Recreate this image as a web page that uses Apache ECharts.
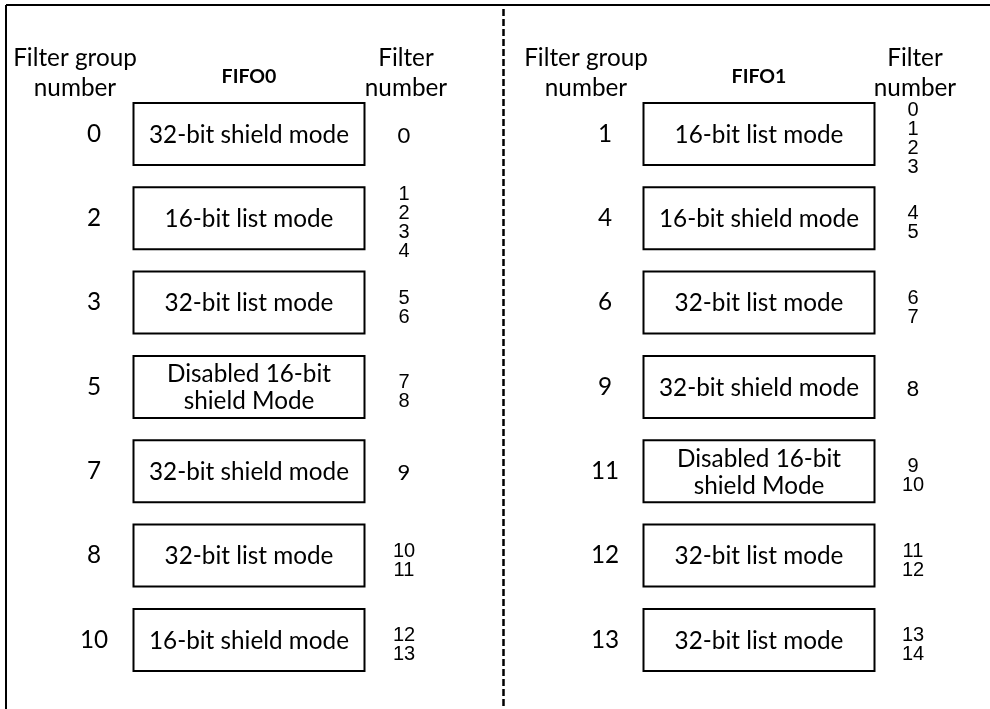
<!DOCTYPE html>
<html>
<head>
<meta charset="utf-8">
<script src="https://cdn.jsdelivr.net/npm/echarts@6/dist/echarts.min.js"></script>
<style>
  html, body { margin: 0; padding: 0; background: #fff; }
  #chart { width: 990px; height: 709px; }
</style>
</head>
<body>
<div id="chart"></div>
<script>
// column headers (same for both FIFOs except the title)
const columnHeaders = ['Filter group\nnumber', 'FIFO', 'Filter\nnumber']
const fifoNames = ['FIFO0', 'FIFO1']

// FIFO0 rows
const fifo0Groups = ['0', '2', '3', '5', '7', '8', '10']
const fifo0Modes = [
  '32-bit shield mode',
  '16-bit list mode',
  '32-bit list mode',
  'Disabled 16-bit\nshield Mode',
  '32-bit shield mode',
  '32-bit list mode',
  '16-bit shield mode'
]
const fifo0Filters = [[0], [1, 2, 3, 4], [5, 6], [7, 8], [9], [10, 11], [12, 13]]

// FIFO1 rows
const fifo1Groups = ['1', '4', '6', '9', '11', '12', '13']
const fifo1Modes = [
  '16-bit list mode',
  '16-bit shield mode',
  '32-bit list mode',
  '32-bit shield mode',
  'Disabled 16-bit\nshield Mode',
  '32-bit list mode',
  '32-bit list mode'
]
const fifo1Filters = [[0, 1, 2, 3], [4, 5], [6, 7], [8], [9, 10], [11, 12], [13, 14]]

const rows = [0, 1, 2, 3, 4, 5, 6]
const FONT = 'Lato'
const INK = '#000'
const BOX_W = 231
const BOX_H = 62

const chart = echarts.init(document.getElementById('chart'))

function headerAxis(gridIndex, fifoName) {
  return {
    type: 'category',
    gridIndex,
    position: 'top',
    data: [0, 1, 2],
    boundaryGap: true,
    axisLine: { show: false },
    axisTick: { show: false },
    splitLine: { show: false },
    axisLabel: {
      interval: 0,
      margin: 19,
      verticalAlign: 'middle',
      formatter: (v, i) => {
        if (i === 0) return columnHeaders[0].split('\n').map(s => `{grp|${s}}`).join('\n')
        if (i === 1) return `{fifo|${fifoName}}`
        return columnHeaders[2].split('\n').map(s => `{fnum|${s}}`).join('\n')
      },
      rich: {
        grp: { fontFamily: FONT, fontSize: 24.3, lineHeight: 30, color: INK, padding: [0, 38, 0, 0] },
        fifo: { fontFamily: FONT, fontSize: 19.5, fontWeight: 'bold', lineHeight: 30, color: INK, padding: [7, 0, 0, 0] },
        fnum: { fontFamily: FONT, fontSize: 24.3, lineHeight: 30, color: INK, padding: [0, 0, 0, 4] }
      }
    }
  }
}

function rowAxis(gridIndex) {
  return {
    type: 'category',
    gridIndex,
    inverse: true,
    data: rows,
    show: false
  }
}

function fifoSeries(idx, groups, modes, filters) {
  return {
    type: 'custom',
    xAxisIndex: idx,
    yAxisIndex: idx,
    silent: true,
    data: rows.map(r => [1, r]),
    renderItem: (params, api) => {
      const r = api.value(1)
      const g = api.coord([0, r])
      const m = api.coord([1, r])
      const f = api.coord([2, r])
      const single = filters[r].length === 1
      return {
        type: 'group',
        children: [
          {
            type: 'rect',
            shape: { x: m[0] - BOX_W / 2, y: m[1] - BOX_H / 2, width: BOX_W, height: BOX_H },
            style: { fill: '#fff', stroke: INK, lineWidth: 2 }
          },
          {
            type: 'text',
            x: m[0], y: m[1] + 1,
            style: {
              text: modes[r], fill: INK, font: `24.3px ${FONT}`, lineHeight: 27,
              align: 'center', verticalAlign: 'middle'
            }
          },
          {
            type: 'text',
            x: g[0], y: g[1],
            style: {
              text: groups[r], fill: INK, font: `24.3px ${FONT}`,
              align: 'center', verticalAlign: 'middle'
            }
          },
          {
            type: 'text',
            x: f[0], y: f[1] + (single ? 2 : 5),
            style: {
              text: filters[r].join('\n'), fill: INK,
              font: single ? `22px ${FONT}` : '20px "Liberation Sans"',
              lineHeight: 19,
              align: 'center', verticalAlign: 'middle'
            }
          }
        ]
      }
    }
  }
}

const option = {
  backgroundColor: '#fff',
  animation: false,
  grid: [
    { left: 16.5, top: 91.8, width: 465, height: 590.3 },
    { left: 528, top: 91.8, width: 465, height: 590.3 }
  ],
  xAxis: [headerAxis(0, fifoNames[0]), headerAxis(1, fifoNames[1])],
  yAxis: [rowAxis(0), rowAxis(1)],
  series: [
    fifoSeries(0, fifo0Groups, fifo0Modes, fifo0Filters),
    fifoSeries(1, fifo1Groups, fifo1Modes, fifo1Filters)
  ],
  graphic: [
    // outer frame: top and left edges
    { type: 'line', shape: { x1: 6, y1: 5, x2: 990, y2: 5 }, style: { stroke: INK, lineWidth: 2 } },
    { type: 'line', shape: { x1: 6, y1: 5, x2: 6, y2: 709 }, style: { stroke: INK, lineWidth: 2 } },
    // dashed divider between FIFO0 and FIFO1
    { type: 'line', shape: { x1: 503.5, y1: 9, x2: 503.5, y2: 709 }, style: { stroke: INK, lineWidth: 2.5, lineDash: [7, 3] } }
  ]
}

chart.setOption(option)
</script>
</body>
</html>
